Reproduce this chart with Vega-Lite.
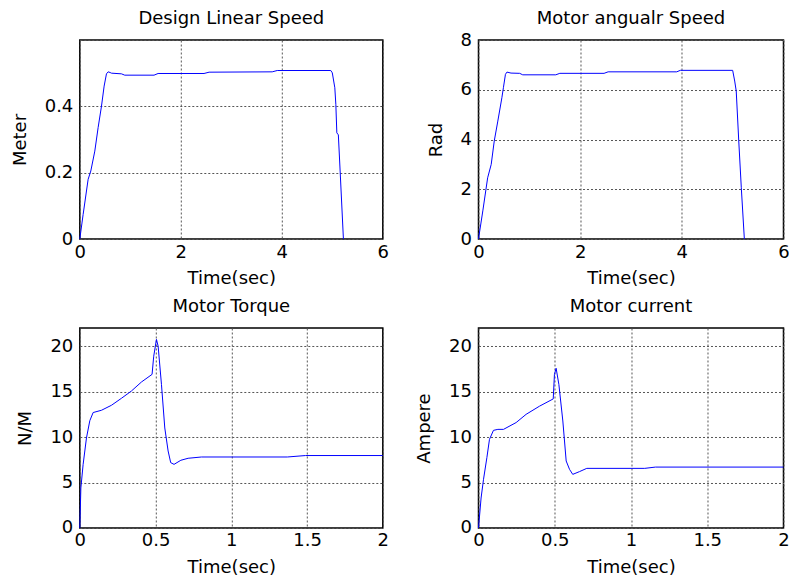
{
  "$schema": "https://vega.github.io/schema/vega-lite/v6.json",
  "background": "white",
  "padding": {"left": 9.8, "top": 9, "right": 0, "bottom": 0},
  "datasets": {
    "linear": [
      {"t": 0, "v": 0}, {"t": 0.066, "v": 0.074}, {"t": 0.165, "v": 0.18}, {"t": 0.218, "v": 0.205},
      {"t": 0.297, "v": 0.265}, {"t": 0.363, "v": 0.336}, {"t": 0.43, "v": 0.401}, {"t": 0.482, "v": 0.461},
      {"t": 0.528, "v": 0.498}, {"t": 0.561, "v": 0.504}, {"t": 0.6, "v": 0.502}, {"t": 0.627, "v": 0.5},
      {"t": 0.825, "v": 0.498}, {"t": 0.89, "v": 0.494}, {"t": 1.47, "v": 0.494}, {"t": 1.55, "v": 0.499},
      {"t": 2.46, "v": 0.499}, {"t": 2.56, "v": 0.503}, {"t": 3.81, "v": 0.504}, {"t": 3.91, "v": 0.508},
      {"t": 4.97, "v": 0.508}, {"t": 5.0, "v": 0.501}, {"t": 5.05, "v": 0.456}, {"t": 5.07, "v": 0.406},
      {"t": 5.09, "v": 0.32}, {"t": 5.12, "v": 0.314}, {"t": 5.155, "v": 0.205}, {"t": 5.22, "v": 0}
    ],
    "angular": [
      {"t": 0, "v": 0}, {"t": 0.085, "v": 1.13}, {"t": 0.18, "v": 2.46}, {"t": 0.25, "v": 3.0},
      {"t": 0.31, "v": 3.94}, {"t": 0.38, "v": 4.74}, {"t": 0.46, "v": 5.68}, {"t": 0.49, "v": 6.08},
      {"t": 0.53, "v": 6.62}, {"t": 0.56, "v": 6.71}, {"t": 0.64, "v": 6.67}, {"t": 0.81, "v": 6.66},
      {"t": 0.87, "v": 6.6}, {"t": 1.52, "v": 6.6}, {"t": 1.6, "v": 6.66}, {"t": 2.47, "v": 6.66},
      {"t": 2.55, "v": 6.72}, {"t": 3.9, "v": 6.72}, {"t": 3.97, "v": 6.78}, {"t": 5.0, "v": 6.78},
      {"t": 5.04, "v": 6.35}, {"t": 5.07, "v": 5.95}, {"t": 5.12, "v": 3.94}, {"t": 5.17, "v": 2.06},
      {"t": 5.23, "v": 0}
    ],
    "torque": [
      {"t": 0, "v": 0}, {"t": 0.007, "v": 4.4}, {"t": 0.022, "v": 7.0}, {"t": 0.044, "v": 9.9},
      {"t": 0.066, "v": 11.8}, {"t": 0.088, "v": 12.7}, {"t": 0.143, "v": 12.95}, {"t": 0.209, "v": 13.5},
      {"t": 0.275, "v": 14.27}, {"t": 0.341, "v": 15.07}, {"t": 0.407, "v": 16.06}, {"t": 0.477, "v": 16.9},
      {"t": 0.488, "v": 18.9}, {"t": 0.506, "v": 20.75}, {"t": 0.517, "v": 20.0}, {"t": 0.539, "v": 15.8},
      {"t": 0.561, "v": 11.0}, {"t": 0.583, "v": 8.47}, {"t": 0.6, "v": 7.19}, {"t": 0.622, "v": 7.0},
      {"t": 0.667, "v": 7.45}, {"t": 0.715, "v": 7.67}, {"t": 0.803, "v": 7.81}, {"t": 1.37, "v": 7.81},
      {"t": 1.49, "v": 7.97}, {"t": 2.0, "v": 7.97}
    ],
    "current": [
      {"t": 0, "v": 0}, {"t": 0.017, "v": 3.3}, {"t": 0.033, "v": 5.36}, {"t": 0.055, "v": 7.74},
      {"t": 0.072, "v": 9.75}, {"t": 0.098, "v": 10.74}, {"t": 0.127, "v": 10.85}, {"t": 0.164, "v": 10.85},
      {"t": 0.247, "v": 11.6}, {"t": 0.312, "v": 12.5}, {"t": 0.4, "v": 13.4}, {"t": 0.49, "v": 14.2},
      {"t": 0.498, "v": 16.9}, {"t": 0.509, "v": 17.57}, {"t": 0.527, "v": 15.8}, {"t": 0.553, "v": 11.77},
      {"t": 0.575, "v": 7.37}, {"t": 0.597, "v": 6.45}, {"t": 0.618, "v": 5.9}, {"t": 0.662, "v": 6.2},
      {"t": 0.71, "v": 6.56}, {"t": 1.09, "v": 6.56}, {"t": 1.16, "v": 6.7}, {"t": 2.0, "v": 6.7}
    ]
  },
  "config": {
    "font": "DejaVu Sans",
    "view": {"stroke": "#000", "strokeWidth": 1.5},
    "axis": {
      "grid": true, "gridColor": "#555", "gridDash": [2, 2], "gridWidth": 1,
      "ticks": false, "domain": false,
      "labelFontSize": 18, "titleFontSize": 18, "titleFontWeight": "normal",
      "labelColor": "#000", "titleColor": "#000", "labelFlush": false, "labelOverlap": false,
      "format": "~g"
    },
    "axisX": {"labelPadding": 4, "titlePadding": 8.5},
    "axisY": {"labelPadding": 7, "titlePadding": 15},
    "title": {"fontSize": 18, "fontWeight": "normal", "color": "#000", "anchor": "middle", "baseline": "bottom", "frame": "group", "offset": 12},
    "line": {"color": "#0000ff", "strokeWidth": 1}
  },
  "columns": 2,
  "bounds": "flush",
  "spacing": {"row": 89, "column": 95.7},
  "concat": [
    {
      "title": {"text": "Design Linear Speed", "offset": 3},
      "width": 303, "height": 199,
      "data": {"name": "linear"},
      "mark": "line",
      "encoding": {
        "x": {"field": "t", "type": "quantitative", "scale": {"domain": [0, 6], "nice": false}, "axis": {"title": "Time(sec)", "values": [0, 2, 4, 6]}},
        "y": {"field": "v", "type": "quantitative", "scale": {"domain": [0, 0.6], "nice": false}, "axis": {"title": "Meter", "values": [0, 0.2, 0.4, 0.6], "labelExpr": "datum.value > 0.5 ? '' : datum.label"}}
      }
    },
    {
      "title": {"text": "Motor angualr Speed", "offset": 3},
      "width": 305, "height": 199,
      "data": {"name": "angular"},
      "mark": "line",
      "encoding": {
        "x": {"field": "t", "type": "quantitative", "scale": {"domain": [0, 6], "nice": false}, "axis": {"title": "Time(sec)", "values": [0, 2, 4, 6]}},
        "y": {"field": "v", "type": "quantitative", "scale": {"domain": [0, 8], "nice": false}, "axis": {"title": "Rad", "values": [0, 2, 4, 6, 8]}}
      }
    },
    {
      "title": {"text": "Motor Torque", "offset": 12},
      "width": 303, "height": 200,
      "data": {"name": "torque"},
      "mark": "line",
      "encoding": {
        "x": {"field": "t", "type": "quantitative", "scale": {"domain": [0, 2], "nice": false}, "axis": {"title": "Time(sec)", "values": [0, 0.5, 1, 1.5, 2]}},
        "y": {"field": "v", "type": "quantitative", "scale": {"domain": [0, 22], "nice": false}, "axis": {"title": "N/M", "values": [0, 5, 10, 15, 20]}}
      }
    },
    {
      "title": {"text": "Motor current", "offset": 12},
      "width": 305, "height": 200,
      "data": {"name": "current"},
      "mark": "line",
      "encoding": {
        "x": {"field": "t", "type": "quantitative", "scale": {"domain": [0, 2], "nice": false}, "axis": {"title": "Time(sec)", "values": [0, 0.5, 1, 1.5, 2]}},
        "y": {"field": "v", "type": "quantitative", "scale": {"domain": [0, 22], "nice": false}, "axis": {"title": "Ampere", "values": [0, 5, 10, 15, 20]}}
      }
    }
  ]
}
